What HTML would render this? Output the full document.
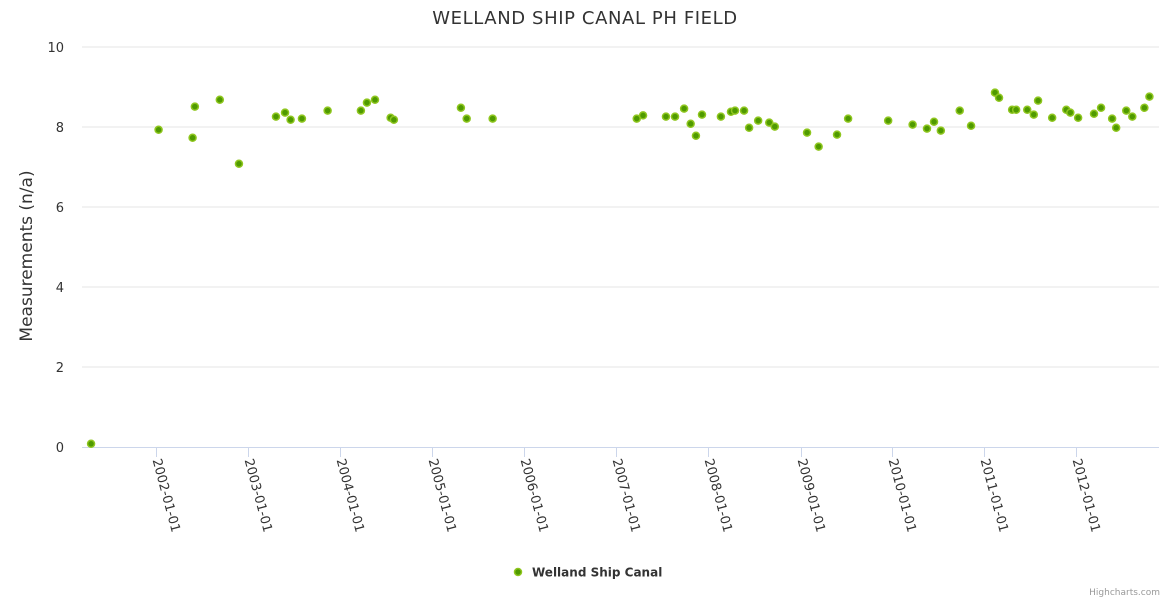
<!DOCTYPE html>
<html><head><meta charset="utf-8"><style>
html,body{margin:0;padding:0;background:#fff;}
svg{display:block;font-family:"DejaVu Sans","Liberation Sans",sans-serif;}
</style></head><body>
<svg id="chart" width="1170" height="600">
<text x="585" y="24" text-anchor="middle" font-size="18" letter-spacing="0.6" fill="#333">WELLAND SHIP CANAL PH FIELD</text>
<text transform="translate(32,256) rotate(-90)" text-anchor="middle" font-size="17" fill="#333">Measurements (n/a)</text>
<g id="grid"></g><g id="xaxis"></g><g id="marks"></g>
<g>
<circle cx="518" cy="572" r="3.5" fill="#4f9a00" stroke="#8fc61f" stroke-width="1.5"></circle>
<text x="532" y="576.5" font-size="12" font-weight="bold" fill="#333">Welland Ship Canal</text>
</g>
<text x="1160" y="595" text-anchor="end" font-size="9" fill="#999">Highcharts.com</text>
</svg>
<script>
const dates=["2001-04-17","2002-01-10","2002-05-25","2002-06-03","2002-09-10","2002-11-25","2003-04-21","2003-05-27","2003-06-18","2003-08-02","2003-11-12","2004-03-23","2004-04-16","2004-05-18","2004-07-19","2004-08-01","2005-04-24","2005-05-17","2005-08-28","2007-03-23","2007-04-17","2007-07-17","2007-08-22","2007-09-27","2007-10-23","2007-11-13","2007-12-07","2008-02-20","2008-03-31","2008-04-16","2008-05-22","2008-06-11","2008-07-17","2008-08-30","2008-09-21","2009-01-27","2009-03-14","2009-05-26","2009-07-09","2009-12-15","2010-03-22","2010-05-18","2010-06-15","2010-07-12","2010-09-25","2010-11-09","2011-02-12","2011-02-28","2011-04-21","2011-05-07","2011-06-20","2011-07-16","2011-08-02","2011-09-27","2011-11-22","2011-12-08","2012-01-08","2012-03-11","2012-04-08","2012-05-22","2012-06-07","2012-07-17","2012-08-10","2012-09-27","2012-10-17"];
const values=[0.08,7.93,7.73,8.51,8.68,7.08,8.26,8.36,8.18,8.21,8.41,8.41,8.61,8.68,8.23,8.18,8.48,8.21,8.21,8.21,8.29,8.26,8.26,8.46,8.08,7.78,8.31,8.26,8.38,8.41,8.41,7.98,8.16,8.11,8.01,7.86,7.51,7.81,8.21,8.16,8.06,7.96,8.13,7.91,8.41,8.03,8.86,8.73,8.43,8.43,8.43,8.31,8.66,8.23,8.43,8.36,8.23,8.33,8.48,8.21,7.98,8.41,8.26,8.48,8.76];
const yTicks=[0,2,4,6,8,10];
const xTickLabels=["2002-01-01","2003-01-01","2004-01-01","2005-01-01","2006-01-01","2007-01-01","2008-01-01","2009-01-01","2010-01-01","2011-01-01","2012-01-01"];
const xDomain=["2001-03-12","2012-11-24"];
const yDomain=[0,10];
const NS="http://www.w3.org/2000/svg";
const L=82,R=1159,T=47,B=447;
const t0=Date.parse(xDomain[0]),t1=Date.parse(xDomain[1]);
function xs(d){return L+(Date.parse(d)-t0)/(t1-t0)*(R-L);}
function ys(v){return B-(v-yDomain[0])/(yDomain[1]-yDomain[0])*(B-T);}
function mk(tag,attrs,parent){const e=document.createElementNS(NS,tag);for(const k in attrs)e.setAttribute(k,attrs[k]);parent.appendChild(e);return e;}
const grid=document.getElementById('grid');
yTicks.forEach(v=>{
  if(v>0){const g=mk('line',{x1:L,x2:R,y1:ys(v),y2:ys(v),stroke:'#e6e6e6','stroke-width':1},grid);
  
  }
  const t=mk('text',{x:64,y:ys(v)+5,'text-anchor':'end','font-size':13,fill:'#333'},grid);
  t.textContent=v;
  
  
});
const xa=document.getElementById('xaxis');
const ax=mk('line',{x1:L,x2:R,y1:B+0.5,y2:B+0.5,stroke:'#ccd6eb','stroke-width':1},xa);


xTickLabels.forEach(d=>{
  const x=Math.round(xs(d))+0.5;
  const tk=mk('line',{x1:x,x2:x,y1:B,y2:B+10,stroke:'#ccd6eb'},xa);
  
  
  const t=mk('text',{transform:`translate(${x-4},${B+13}) rotate(75)`,'font-size':13,fill:'#333'},xa);
  t.textContent=d;
  
  
});
const marks=document.getElementById('marks');
dates.forEach((d,i)=>{
  const c=mk('circle',{cx:xs(d),cy:ys(values[i]),r:3.5,fill:'#4f9a00',stroke:'#8fc61f','stroke-width':1.5},marks);
  
  
});
</script>
</body></html>
